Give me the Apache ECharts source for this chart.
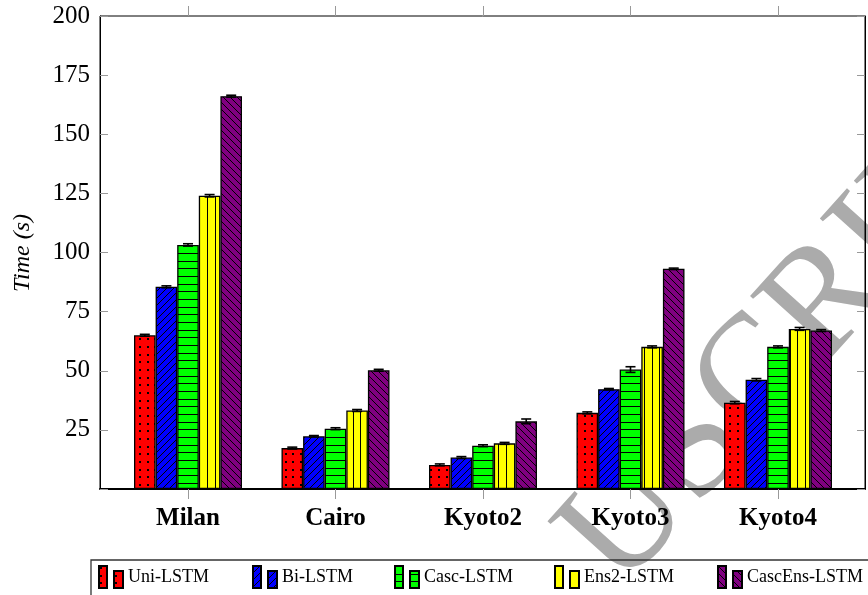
<!DOCTYPE html>
<html>
<head>
<meta charset="utf-8">
<script src="https://cdn.jsdelivr.net/npm/echarts@6/dist/echarts.min.js"></script>
<style>
html,body{margin:0;padding:0;background:#fff;}
#chart{width:868px;height:595px;}
</style>
</head>
<body>
<div id="chart"></div>
<script>
// ---- data ----
const categories = ['Milan', 'Cairo', 'Kyoto2', 'Kyoto3', 'Kyoto4'];
const seriesNames = ['Uni-LSTM', 'Bi-LSTM', 'Casc-LSTM', 'Ens2-LSTM', 'CascEns-LSTM'];
const uniLSTM     = [65.0, 17.3, 10.2, 32.2, 36.5];
const biLSTM      = [85.5, 22.3, 13.3, 42.2, 46.2];
const cascLSTM    = [103.2, 25.5, 18.3, 50.5, 60.1];
const ens2LSTM    = [124.0, 33.2, 19.3, 60.1, 67.7];
const cascEnsLSTM = [166.1, 50.2, 28.6, 93.1, 67.0];
const uniErr      = [0.4, 0.4, 0.4, 0.4, 0.5];
const biErr       = [0.4, 0.3, 0.4, 0.3, 0.5];
const cascErr     = [0.5, 0.4, 0.4, 1.2, 0.4];
const ens2Err     = [0.5, 0.4, 0.4, 0.4, 0.6];
const cascEnsErr  = [0.4, 0.4, 1.0, 0.3, 0.4];
const yTickValues = [25, 50, 75, 100, 125, 150, 175, 200];

const values = [uniLSTM, biLSTM, cascLSTM, ens2LSTM, cascEnsLSTM];
const errors = [uniErr, biErr, cascErr, ens2Err, cascEnsErr];

// ---- patterns ----
function makePattern(kind, bg) {
  const c = document.createElement('canvas');
  let w = 23, h = 23;
  if (kind === 'ne' || kind === 'nw') { w = 7; h = 7; }
  c.width = w; c.height = h;
  const g = c.getContext('2d');
  g.fillStyle = bg; g.fillRect(0, 0, w, h);
  g.strokeStyle = '#000'; g.fillStyle = '#000'; g.lineWidth = 1;
  if (kind === 'dots') {
    [1, 9, 16].forEach(x => [1, 9, 16].forEach(y => g.fillRect(x, y, 2, 2)));
  } else if (kind === 'hlines') {
    [0.5, 8.5, 15.5].forEach(y => { g.beginPath(); g.moveTo(0, y); g.lineTo(w, y); g.stroke(); });
  } else if (kind === 'vlines') {
    [0.5, 8.5, 15.5].forEach(x => { g.beginPath(); g.moveTo(x, 0); g.lineTo(x, h); g.stroke(); });
  } else if (kind === 'ne') {
    g.beginPath();
    g.moveTo(-1, h + 1); g.lineTo(w + 1, -1);
    g.moveTo(-1, 1); g.lineTo(1, -1);
    g.moveTo(w - 1, h + 1); g.lineTo(w + 1, h - 1);
    g.stroke();
  } else if (kind === 'nw') {
    g.beginPath();
    g.moveTo(-1, -1); g.lineTo(w + 1, h + 1);
    g.moveTo(w - 1, -1); g.lineTo(w + 1, 1);
    g.moveTo(-1, h - 1); g.lineTo(1, h + 1);
    g.stroke();
  }
  return { image: c, repeat: 'repeat' };
}
const patterns = [
  makePattern('dots', '#ff0000'),
  makePattern('ne', '#0000ff'),
  makePattern('hlines', '#00ff00'),
  makePattern('vlines', '#ffff00'),
  makePattern('nw', '#800080')
];

const BAR_W = 21.6;
const legendLefts = [98, 252, 394, 554, 717];
const serif = '"Liberation Serif", "Times New Roman", serif';

const barSeries = seriesNames.map((name, i) => ({
  name: name,
  type: 'bar',
  xAxisIndex: 1,
  yAxisIndex: 2,
  barWidth: BAR_W,
  barGap: '0%',
  data: values[i],
  itemStyle: { color: patterns[i], borderColor: '#000', borderWidth: 1.3 },
  emphasis: { disabled: true },
  z: 3
}));

const errData = [];
values.forEach((arr, s) => arr.forEach((v, c) => errData.push([c, v, errors[s][c], s])));

const errSeries = {
  name: 'errors',
  type: 'custom',
  xAxisIndex: 1,
  yAxisIndex: 2,
  z: 4,
  silent: true,
  data: errData,
  encode: { x: 0, y: 1 },
  renderItem: function (params, api) {
    const c = api.value(0), v = api.value(1), e = api.value(2), s = api.value(3);
    const p = api.coord([c, v]);
    const t = api.coord([c, v + e]);
    const b = api.coord([c, v - e]);
    const x = p[0] + (s - 2) * BAR_W;
    const half = 5;
    const st = { stroke: '#000', lineWidth: 1.6 };
    return {
      type: 'group',
      children: [
        { type: 'line', shape: { x1: x, y1: t[1], x2: x, y2: b[1] }, style: st },
        { type: 'line', shape: { x1: x - half, y1: t[1], x2: x + half, y2: t[1] }, style: st },
        { type: 'line', shape: { x1: x - half, y1: b[1], x2: x + half, y2: b[1] }, style: st }
      ]
    };
  }
};

const legendIcon = 'path://M0,0H8V22H0Z M15,5H24V22H15Z';

const option = {
  animation: false,
  backgroundColor: '#fff',
  grid: [
    { left: 100, top: 16, width: 765, height: 473, show: true, borderColor: '#000', borderWidth: 1, backgroundColor: 'transparent' },
    { left: 114.25, top: 16, width: 737.5, height: 473 }
  ],
  xAxis: [
    { gridIndex: 0, type: 'value', min: 0, max: 1, axisLine: { show: true, onZero: false, lineStyle: { color: '#000', width: 2 } },
      axisTick: { show: false }, axisLabel: { show: false }, splitLine: { show: false } },
    { gridIndex: 1, type: 'category', data: categories, position: 'bottom',
      axisLine: { show: false }, axisTick: { show: true, alignWithLabel: true, length: 10, lineStyle: { color: '#999', width: 1 } },
      axisLabel: { fontFamily: serif, fontWeight: 'bold', fontSize: 25, color: '#000', margin: 17 },
      splitLine: { show: false } },
    { gridIndex: 1, type: 'category', data: categories, position: 'top',
      axisLine: { show: false }, axisTick: { show: true, alignWithLabel: true, length: 10, lineStyle: { color: '#999', width: 1 } },
      axisLabel: { show: false }, splitLine: { show: false } }
  ],
  yAxis: [
    { gridIndex: 0, type: 'value', min: 0, max: 200, interval: 25, position: 'left',
      axisLine: { show: true, lineStyle: { color: '#000', width: 1 } },
      axisTick: { show: true, inside: true, length: 8, lineStyle: { color: '#999' } },
      axisLabel: { fontFamily: serif, fontSize: 25, color: '#000', margin: 10,
        formatter: v => (yTickValues.indexOf(v) >= 0 ? String(v) : '') },
      splitLine: { show: false } },
    { gridIndex: 0, type: 'value', min: 0, max: 200, interval: 25, position: 'right',
      axisLine: { show: true, lineStyle: { color: '#000', width: 1 } },
      axisTick: { show: true, inside: true, length: 8, lineStyle: { color: '#999' } },
      axisLabel: { show: false }, splitLine: { show: false } },
    { gridIndex: 1, type: 'value', min: 0, max: 200, show: false }
  ],
  legend: seriesNames.map((n, i) => ({
    data: [n],
    left: legendLefts[i],
    top: 565,
    padding: 0,
    itemGap: 0,
    itemWidth: 24,
    itemHeight: 22,
    icon: legendIcon,
    selectedMode: false,
    textStyle: { fontFamily: serif, fontSize: 18, color: '#000', padding: [3, 0, 0, 0] }
  })),
  graphic: [
    { type: 'text', z: -1, x: 648, y: 616, rotation: 48 * Math.PI / 180,
      style: { text: 'USCRIPT', font: '155px "Liberation Serif"', fill: '#ababab', textAlign: 'left', textVerticalAlign: 'bottom' } },
    { type: 'rect', z: 10, shape: { x: 91, y: 560, width: 800, height: 60 },
      style: { fill: 'transparent', stroke: '#333', lineWidth: 1.3 } },
    { type: 'text', z: 10, x: 23, y: 253, rotation: Math.PI / 2,
      style: { text: 'Time (s)', font: 'italic 24px "Liberation Serif"', fill: '#000', textAlign: 'center', textVerticalAlign: 'middle' } }
  ],
  series: barSeries.concat([errSeries])
};

const chart = echarts.init(document.getElementById('chart'), null, { renderer: 'canvas' });
chart.setOption(option);
</script>
</body>
</html>
